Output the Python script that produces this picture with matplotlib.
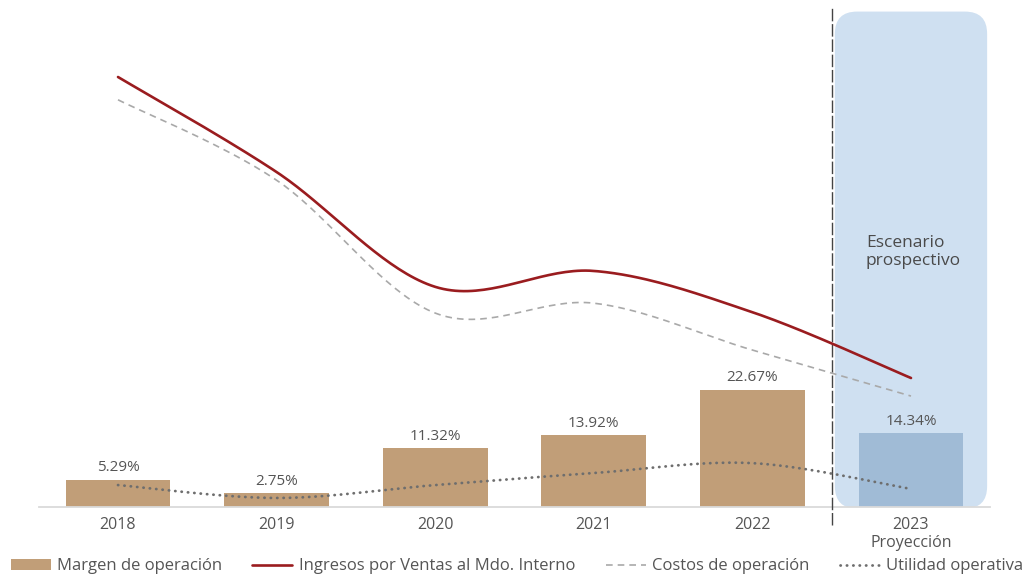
import numpy as np
import matplotlib
matplotlib.use("Agg")
import matplotlib.pyplot as plt
from matplotlib.patches import FancyBboxPatch
from matplotlib.transforms import blended_transform_factory

plt.rcParams['font.family'] = ['Open Sans', 'DejaVu Sans']

# ---- data ----
years = ["2018", "2019", "2020", "2021", "2022", "2023\nProyección"]
margen = [5.29, 2.75, 11.32, 13.92, 22.67, 14.34]
margen_labels = ["5.29%", "2.75%", "11.32%", "13.92%", "22.67%", "14.34%"]
ingresos = [100.0, 77.9, 51.2, 54.9, 45.3, 30.0]
costos = [94.7, 76.0, 45.1, 47.4, 36.5, 25.8]
utilidad = [5.1, 2.1, 5.1, 7.9, 10.2, 4.2]

C_BAR = "#C19E78"
C_BAR_PROJ = "#A0BBD6"
C_BOX = "#CFE0F1"
C_RED = "#9A1C1F"
C_DASH = "#A9A9A9"
C_DOT = "#6E6E6E"
C_TXT = "#555555"


def smooth(xs, ys, n=40):
    """Catmull-Rom style smoothing (like spreadsheet 'smoothed line')."""
    xs = np.asarray(xs, float)
    ys = np.asarray(ys, float)
    P = np.column_stack([xs, ys])
    Pe = np.vstack([P[0], P, P[-1]])
    out = []
    t = np.linspace(0, 1, n)[:, None]
    for i in range(len(P) - 1):
        p0, p1, p2, p3 = Pe[i], Pe[i + 1], Pe[i + 2], Pe[i + 3]
        b1 = p1 + (p2 - p0) / 6.0
        b2 = p2 - (p3 - p1) / 6.0
        seg = ((1 - t) ** 3) * p1 + 3 * ((1 - t) ** 2) * t * b1 + 3 * (1 - t) * t ** 2 * b2 + t ** 3 * p2
        out.append(seg if i == 0 else seg[1:])
    seg = np.vstack(out)
    return seg[:, 0], seg[:, 1]


W, H = 1034, 575
fig = plt.figure(figsize=(W / 100, H / 100), dpi=100)
left_px, right_px = 38.7, 990.3
bot_px, top_px = 507, 5
ax = fig.add_axes([left_px / W, (H - bot_px) / H, (right_px - left_px) / W, (bot_px - top_px) / H])
x = np.arange(len(years))
ax.set_xlim(-0.5, len(years) - 0.5)
ymax_bar = (bot_px - top_px) / 5.18
ax.set_ylim(0, ymax_bar)

# projection box
px_per_x = (right_px - left_px) / len(years)
px_per_y = (bot_px - top_px) / ymax_bar
box = FancyBboxPatch((x[-1] - 0.48, -0.3), 0.96, ymax_bar * 0.99,
                     boxstyle="round,pad=0,rounding_size=0.14",
                     mutation_aspect=px_per_x / px_per_y,
                     facecolor=C_BOX, edgecolor="none", zorder=0)
ax.add_patch(box)

colors = [C_BAR] * (len(years) - 1) + [C_BAR_PROJ]
bars = ax.bar(x, margen, width=0.66, color=colors, zorder=2)
for xi, v, lab in zip(x, margen, margen_labels):
    ax.annotate(lab, (xi, v), xytext=(0, 3), textcoords="offset points",
                ha="center", va="bottom", fontsize=11, color=C_TXT)

# vertical separator
trans = blended_transform_factory(ax.transData, ax.transAxes)
ax.plot([x[-1] - 0.5, x[-1] - 0.5], [-0.036, 0.994], transform=trans,
        color="#444444", lw=1.0, ls=(0, (9, 2)), clip_on=False, zorder=3)

ax.text(x[-1] - 0.284, 0.508, "Escenario\nprospectivo", transform=trans,
        ha="left", va="center", fontsize=12.5, color="#4A4A4A", linespacing=1.1)

ax.set_xticks(x)
ax.set_xticklabels(years, fontsize=11.5, color=C_TXT, linespacing=1.15)
ax.tick_params(axis="x", length=0, pad=7)
ax.set_yticks([])
for s in ["top", "right", "left"]:
    ax.spines[s].set_visible(False)
ax.spines["bottom"].set_color("#DADADA")
ax.spines["bottom"].set_linewidth(1.3)
ax.set_facecolor("none")

# lines on twin axis
ax2 = ax.twinx()
ax2.set_ylim(0, (bot_px - top_px) / 4.3)
ax2.set_yticks([])
for s in ax2.spines.values():
    s.set_visible(False)
ax2.patch.set_visible(False)

sx, sy = smooth(x, ingresos)
l_ing, = ax2.plot(sx, sy, color=C_RED, lw=1.9, solid_capstyle="round")
sx, sy = smooth(x, costos)
l_cos, = ax2.plot(sx, sy, color=C_DASH, lw=1.2, ls=(0, (4, 3)))
sx, sy = smooth(x, utilidad)
l_uti, = ax2.plot(sx, sy, color=C_DOT, lw=2.0, ls=(0, (0.1, 2.2)), dash_capstyle="round")

handles = [bars.patches[0], l_ing, l_cos, l_uti]
labels = ["Margen de operación", "Ingresos por Ventas al Mdo. Interno",
          "Costos de operación", "Utilidad operativa"]
leg = fig.legend(handles, labels, loc="lower center", bbox_to_anchor=(0.5, -0.025),
                 ncol=4, frameon=False, fontsize=12, handlelength=2.4,
                 handleheight=0.65, columnspacing=1.8, handletextpad=0.4,
                 labelcolor=C_TXT)

fig.savefig("out.png", dpi=100)
